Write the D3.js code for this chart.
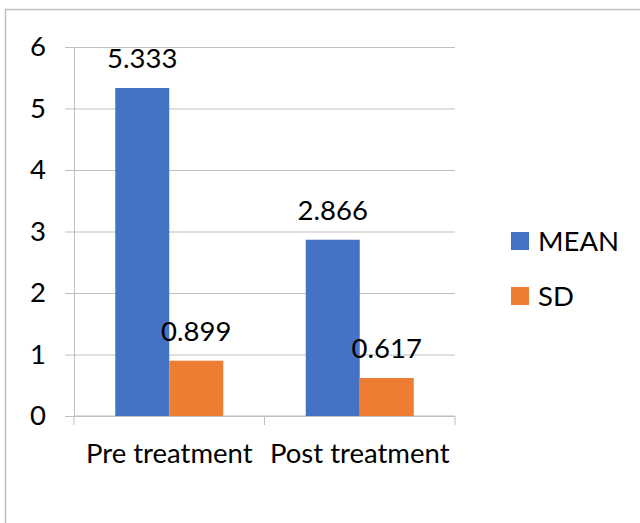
<!DOCTYPE html>
<html>
<head>
<meta charset="utf-8">
<script src="https://cdn.jsdelivr.net/npm/d3@7"></script>
<style>
  html, body { margin: 0; padding: 0; background: #fff; }
  svg { display: block; }
  text { font-family: Lato, "Noto Sans", sans-serif; fill: #000; }
</style>
</head>
<body>
<svg id="chart" width="640" height="523"></svg>
<script>
// Chart data
const categories = ["Pre treatment", "Post treatment"];
const seriesNames = ["MEAN", "SD"];
const meanValues = [5.333, 2.866];
const sdValues = [0.899, 0.617];
const yTicks = [0, 1, 2, 3, 4, 5, 6];
const seriesColors = ["#4472C4", "#ED7D31"];

const svg = d3.select("#chart");
const fontSize = 27.5;
const gridColor = "#BFBFBF";

// Outer chart frame
svg.append("rect")
  .attr("x", 5.5).attr("y", 9.5)
  .attr("width", 700).attr("height", 600)
  .attr("fill", "none").attr("stroke", "#BFBFBF").attr("stroke-width", 1.5);

const plot = { left: 74, right: 455, top: 47, bottom: 416 };

const x0 = d3.scaleBand().domain(categories).range([plot.left, plot.right]).paddingInner(0).paddingOuter(0);
const x1 = d3.scaleBand().domain(seriesNames).range([0, x0.bandwidth()]).paddingInner(0).paddingOuter(0.764);
const y = d3.scaleLinear().domain([0, 6]).range([plot.bottom, plot.top]);

// Horizontal gridlines with tick marks extending left of the axis
const yAxis = d3.axisLeft(y).tickValues(yTicks).tickSize(-(plot.right - plot.left)).tickSizeOuter(0).tickFormat(d3.format("d"));
const gy = svg.append("g").attr("transform", `translate(${plot.left},0)`).call(yAxis);
gy.select(".domain").attr("stroke", gridColor);
gy.selectAll(".tick line").attr("stroke", gridColor).attr("x1", -9);
gy.selectAll(".tick text").attr("x", -28).attr("font-size", fontSize).attr("font-family", "Lato").attr("fill", "#000");

// Category axis with boundary ticks
const xAxisLine = svg.append("g");
const boundaries = [plot.left, plot.left + x0.bandwidth(), plot.right];
xAxisLine.selectAll("line.bt").data(boundaries).join("line")
  .attr("x1", d => d).attr("x2", d => d)
  .attr("y1", plot.bottom).attr("y2", plot.bottom + 9)
  .attr("stroke", gridColor);
xAxisLine.append("line")
  .attr("x1", plot.left).attr("x2", plot.right)
  .attr("y1", plot.bottom).attr("y2", plot.bottom)
  .attr("stroke", gridColor);
xAxisLine.selectAll("text").data(categories).join("text")
  .attr("x", d => x0(d) + x0.bandwidth() / 2)
  .attr("y", 463)
  .attr("text-anchor", "middle")
  .attr("font-size", fontSize)
  .text(d => d);

// Bars
const rows = categories.map((c, i) => ({ category: c, values: [meanValues[i], sdValues[i]] }));
const groups = svg.append("g").selectAll("g").data(rows).join("g")
  .attr("transform", d => `translate(${x0(d.category)},0)`);

groups.selectAll("rect").data(d => d.values.map((v, j) => ({ key: seriesNames[j], value: v, color: seriesColors[j] })))
  .join("rect")
  .attr("x", d => x1(d.key))
  .attr("y", d => y(d.value))
  .attr("width", x1.bandwidth())
  .attr("height", d => y(0) - y(d.value))
  .attr("fill", d => d.color);

groups.selectAll("text").data(d => d.values.map((v, j) => ({ key: seriesNames[j], value: v })))
  .join("text")
  .attr("x", d => x1(d.key) + x1.bandwidth() / 2)
  .attr("y", d => y(d.value) - 20)
  .attr("text-anchor", "middle")
  .attr("font-size", fontSize)
  .text(d => d3.format(".3f")(d.value));

// Legend
const legend = svg.append("g").selectAll("g").data(seriesNames).join("g")
  .attr("transform", (d, i) => `translate(511,${232 + i * 55})`);
legend.append("rect").attr("width", 18).attr("height", 18).attr("fill", (d, i) => seriesColors[i]);
legend.append("text").attr("x", 27).attr("y", 19).attr("font-size", fontSize).text(d => d);
</script>
</body>
</html>
